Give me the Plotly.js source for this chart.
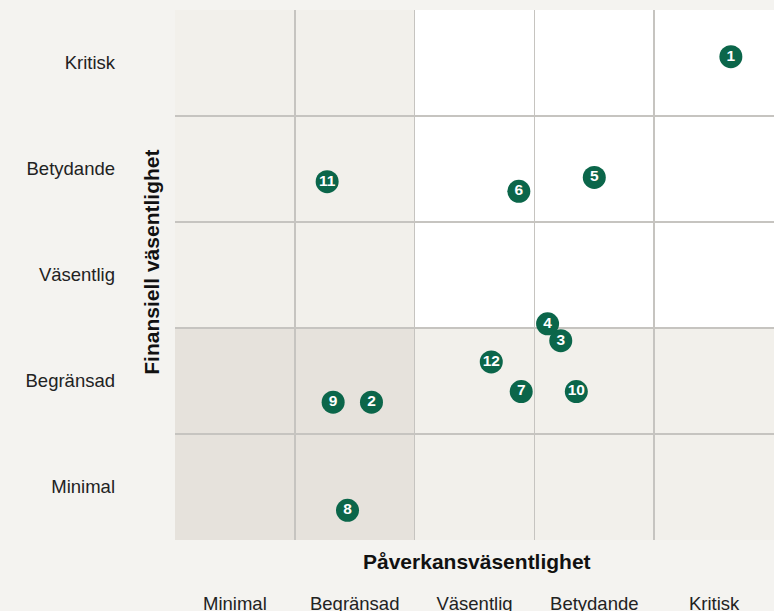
<!DOCTYPE html>
<html>
<head>
<meta charset="utf-8">
<script src="https://cdn.plot.ly/plotly-3.0.1.min.js"></script>
<style>html,body{margin:0;padding:0;background:#f4f3f0;}#chart{width:774px;height:611px;}</style>
</head>
<body>
<div id="chart"></div>
<script>
// Categories (low -> high)
const levels = ['Minimal', 'Begränsad', 'Väsentlig', 'Betydande', 'Kritisk'];
// Topic ids and their scores (0..5 scale)
const ids = ['1','2','3','4','5','6','7','8','9','10','11','12'];
const impact = [4.64, 1.64, 3.22, 3.11, 3.50, 2.87, 2.89, 1.44, 1.32, 3.35, 1.27, 2.64];
const financial = [4.56, 1.30, 1.88, 2.04, 3.42, 3.29, 1.40, 0.28, 1.30, 1.40, 3.38, 1.68];

const centers = levels.map((_, i) => i + 0.5);
const bounds = [1, 2, 3, 4];

const trace = {
  type: 'scatter',
  mode: 'markers+text',
  x: impact,
  y: financial,
  text: ids,
  textposition: 'middle center',
  textfont: {family: 'Liberation Sans, Arial, sans-serif', size: 15.5, color: '#ffffff', weight: 'bold'},
  marker: {size: 23, color: '#0b664a', line: {width: 0}},
  hoverinfo: 'skip',
  cliponaxis: false
};

const zone = (x0, x1, y0, y1, c) => ({type: 'rect', xref: 'x', yref: 'y', x0, x1, y0, y1, fillcolor: c, line: {width: 0}, layer: 'below'});

const font = 'Liberation Sans, Arial, Helvetica, sans-serif';
const layout = {
  width: 774, height: 611,
  margin: {l: 175, r: 0, t: 10, b: 71, pad: 0},
  paper_bgcolor: '#f4f3f0',
  plot_bgcolor: '#ffffff',
  showlegend: false,
  font: {family: font, color: '#1a1a1a'},
  xaxis: {
    range: [0, 5], fixedrange: true,
    tickvals: centers, ticktext: levels,
    showgrid: false, zeroline: false, showline: false, ticks: '',
    tickfont: {family: font, size: 18.5, color: '#222222'},
    ticklabelstandoff: 50,
    minor: {tickvals: bounds, showgrid: true, gridcolor: '#c6c4c0', gridwidth: 1.5, ticks: ''}
  },
  yaxis: {
    range: [0, 5], fixedrange: true,
    tickvals: centers, ticktext: levels,
    showgrid: false, zeroline: false, showline: false, ticks: '',
    tickfont: {family: font, size: 18.5, color: '#222222'},
    ticklabelstandoff: 59,
    minor: {tickvals: bounds, showgrid: true, gridcolor: '#c6c4c0', gridwidth: 1.5, ticks: ''}
  },
  shapes: [
    zone(0, 2, 0, 2, '#e6e2dc'),
    zone(0, 2, 2, 5, '#f2f0eb'),
    zone(2, 5, 0, 2, '#f2f0eb'),
    zone(2, 5, 2, 5, '#ffffff')
  ],
  annotations: [
    {text: 'Påverkansväsentlighet', xref: 'paper', yref: 'paper', x: 0.505, y: -0.0415,
     xanchor: 'center', yanchor: 'middle', showarrow: false,
     font: {family: font, size: 21, color: '#111111', weight: 'bold'}},
    {text: 'Finansiell väsentlighet', xref: 'paper', yref: 'paper', x: -0.0384, y: 0.525,
     xanchor: 'center', yanchor: 'middle', textangle: -90, showarrow: false,
     font: {family: font, size: 21, color: '#111111', weight: 'bold'}}
  ]
};

Plotly.newPlot('chart', [trace], layout, {displayModeBar: false, staticPlot: true});
</script>
</body>
</html>
